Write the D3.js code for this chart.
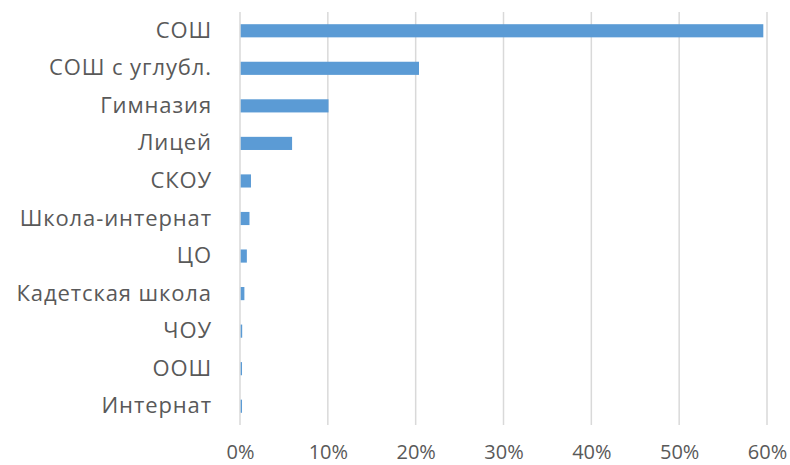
<!DOCTYPE html>
<html>
<head>
<meta charset="utf-8">
<script src="https://cdn.jsdelivr.net/npm/d3@7"></script>
<style>
  body { margin: 0; background: #fff; }
  text { font-family: "Open Sans", sans-serif; fill: #595959; }
</style>
</head>
<body>
<div id="chart"></div>
<script>
// categories top to bottom
var categories = ["СОШ", "СОШ с углубл.", "Гимназия", "Лицей", "СКОУ", "Школа-интернат",
  "ЦО", "Кадетская школа", "ЧОУ", "ООШ", "Интернат"];
// share of schools, %
var values = [59.5, 20.3, 10.0, 5.85, 1.17, 1.0, 0.7, 0.42, 0.17, 0.15, 0.15];
var ticks = [0, 10, 20, 30, 40, 50, 60];

var margin = {top: 12, right: 23, bottom: 40, left: 240},
  width = 790 - margin.left - margin.right,
  height = 465 - margin.top - margin.bottom;

var svg = d3.select("#chart").append("svg")
  .attr("width", 790)
  .attr("height", 465)
  .append("g")
  .attr("transform", "translate(" + margin.left + "," + margin.top + ")");

var x = d3.scaleLinear().domain([0, 60]).range([0, width]);
var y = d3.scaleBand().domain(categories).range([0, height]).paddingInner(0.65).paddingOuter(0.325);

// vertical gridlines
svg.selectAll(".grid")
  .data(ticks)
  .enter().append("line")
  .attr("x1", function(d) { return x(d); })
  .attr("x2", function(d) { return x(d); })
  .attr("y1", 0)
  .attr("y2", height)
  .attr("stroke", "#d9d9d9")
  .attr("stroke-width", 1.5);

// bars
svg.selectAll(".bar")
  .data(values)
  .enter().append("rect")
  .attr("x", x(0) + 0.7)
  .attr("y", function(d, i) { return y(categories[i]); })
  .attr("width", function(d) { return x(d); })
  .attr("height", y.bandwidth())
  .attr("fill", "#5b9bd5");

// category labels
var yAxis = svg.append("g")
  .call(d3.axisLeft(y).tickSize(0).tickPadding(28));
yAxis.select(".domain").remove();
yAxis.selectAll("text")
  .style("font-size", "22px")
  .style("letter-spacing", "0.9px")
  .attr("fill", "#595959");

// x axis labels
var xAxis = svg.append("g")
  .attr("transform", "translate(0," + height + ")")
  .call(d3.axisBottom(x).tickValues(ticks).tickSize(0).tickPadding(20)
    .tickFormat(function(d) { return d + "%"; }));
xAxis.select(".domain").remove();
xAxis.selectAll("text")
  .style("font-size", "20px")
  .attr("fill", "#595959");
</script>
</body>
</html>
